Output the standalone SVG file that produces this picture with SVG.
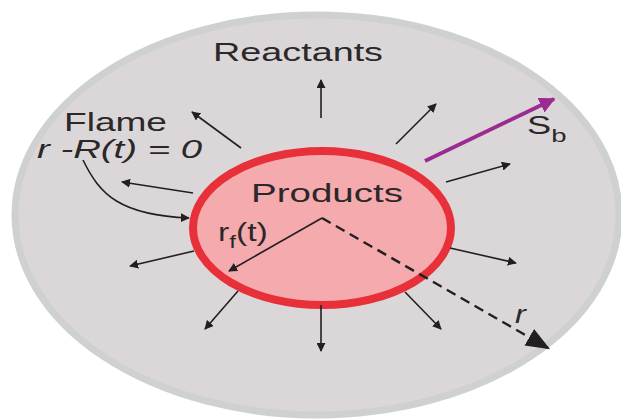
<svg xmlns="http://www.w3.org/2000/svg" width="621" height="420" viewBox="0 0 621 420">
<defs>
<marker id="ah" viewBox="0 0 10 10" refX="9" refY="5" markerWidth="9" markerHeight="9" markerUnits="userSpaceOnUse" orient="auto"><path d="M0,0 L10,5 L0,10 z" fill="#231f20"/></marker>
<marker id="ahp" viewBox="0 0 10 10" refX="9" refY="5" markerWidth="16" markerHeight="16" markerUnits="userSpaceOnUse" orient="auto"><path d="M0,0 L10,5 L0,10 z" fill="#9b2b93"/></marker>
<marker id="ahb" viewBox="0 0 10 10" refX="9" refY="5" markerWidth="24" markerHeight="24" markerUnits="userSpaceOnUse" orient="auto"><path d="M0,1 L10,5 L0,9 z" fill="#231f20"/></marker>
<style>
.t{font-family:"Liberation Sans",Arial,sans-serif;fill:#2b2829;font-size:25px}
.a{stroke:#231f20;stroke-width:1.6;fill:none;marker-end:url(#ah)}
</style>
</defs>
<g id="outer"><ellipse cx="317" cy="215" rx="302" ry="200" fill="#dbd7d9" stroke="#cfd0d2" stroke-width="7"/></g>
<g id="flame"><ellipse cx="322" cy="228" rx="129" ry="77" fill="#f5aaae" stroke="#e8303a" stroke-width="8"/></g>
<g id="connectors">
<line class="a" x1="321" y1="118" x2="321" y2="80"/>
<line class="a" x1="396" y1="144" x2="436" y2="104"/>
<line class="a" x1="446" y1="182" x2="510" y2="164"/>
<line class="a" x1="450" y1="248" x2="516" y2="263"/>
<line class="a" x1="405" y1="292" x2="441" y2="329"/>
<line class="a" x1="321" y1="305" x2="321" y2="351"/>
<line class="a" x1="238" y1="291" x2="205" y2="329"/>
<line class="a" x1="194" y1="251" x2="130" y2="266"/>
<line class="a" x1="193" y1="193" x2="122" y2="182"/>
<line class="a" x1="241" y1="148" x2="192" y2="112"/>
<path class="a" d="M83,160 C100,195 120,215 189,218"/>
<line x1="425" y1="161" x2="554" y2="99" stroke="#9b2b93" stroke-width="4" marker-end="url(#ahp)"/>
<line x1="322" y1="218" x2="229" y2="271" class="a" stroke-width="2.4"/>
<line x1="322" y1="218" x2="548" y2="348" stroke="#231f20" stroke-width="2.4" stroke-dasharray="10,6" marker-end="url(#ahb)"/>
</g>
<g id="labels">
<text class="t" x="213" y="61" textLength="170" lengthAdjust="spacingAndGlyphs">Reactants</text>
<text class="t" x="64" y="131" textLength="103" lengthAdjust="spacingAndGlyphs">Flame</text>
<text class="t" x="37" y="158" font-style="italic" textLength="165" lengthAdjust="spacingAndGlyphs">r -R(t) = 0</text>
<text class="t" x="251" y="202" textLength="152" lengthAdjust="spacingAndGlyphs">Products</text>
<g transform="translate(218,241) scale(1.35,1)"><text class="t" x="0" y="0">r<tspan font-size="18" dy="7">f</tspan><tspan dy="-7">(t)</tspan></text></g>
<g transform="translate(527,134) scale(1.45,1)"><text class="t" x="0" y="0">S<tspan font-size="19" dy="8">b</tspan></text></g>
<g transform="translate(515,323) scale(1.3,1)"><text class="t" x="0" y="0" font-style="italic">r</text></g>
</g>
</svg>
